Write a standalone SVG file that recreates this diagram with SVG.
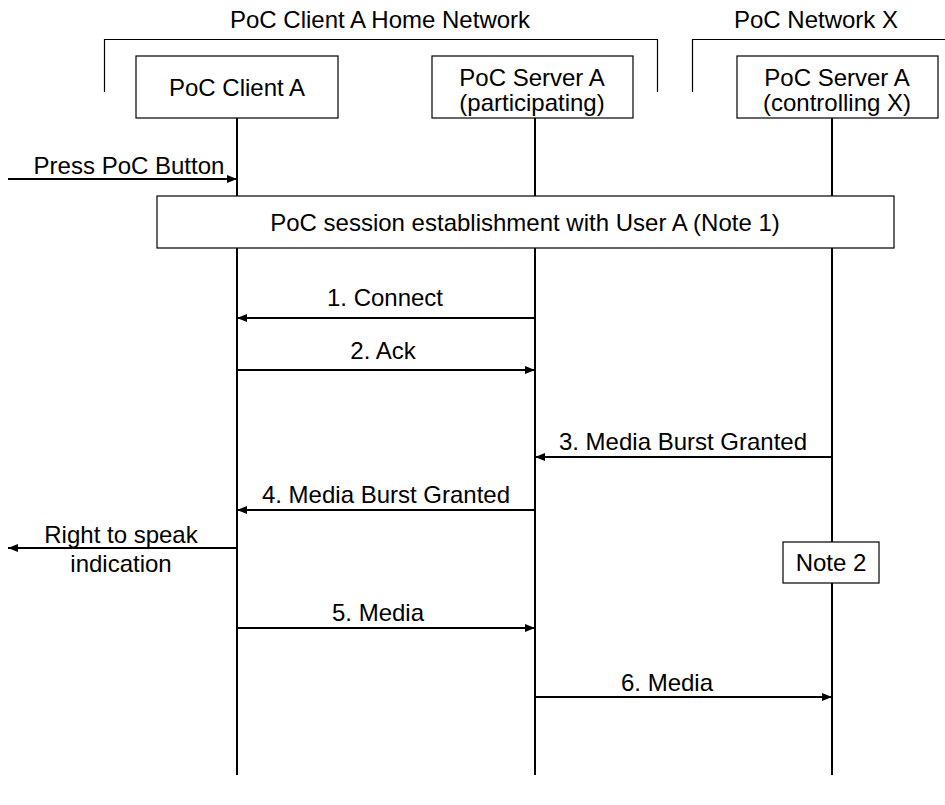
<svg xmlns="http://www.w3.org/2000/svg" width="945" height="805" viewBox="0 0 945 805">
<defs>
<style>
text{font-family:"Liberation Sans",Arial,sans-serif;font-size:24px;fill:#000;text-anchor:middle}
.box{fill:#fff;stroke:#000;stroke-width:1.2}
.br{fill:none;stroke:#000;stroke-width:1.2}
.life{stroke:#000;stroke-width:2}
.msg{stroke:#000;stroke-width:2;fill:none;marker-end:url(#ah)}
</style>
<marker id="ah" viewBox="0 0 10 8" refX="10" refY="4" markerWidth="10" markerHeight="8" markerUnits="userSpaceOnUse" orient="auto">
<path d="M0,0 L10,4 L0,8 Z" fill="#000"/>
</marker>
</defs>
<rect width="945" height="805" fill="#fff"/>
<g id="home-network">
<path class="br" d="M104.5,92 V39.5 H657.5 V92"/>
<text x="380" y="28">PoC Client A Home Network</text>
</g>
<g id="network-x">
<path class="br" d="M692.5,92 V39.5 H945"/>
<text x="816" y="28">PoC Network X</text>
</g>
<g id="lifelines">
<line class="life" x1="237" y1="118" x2="237" y2="775"/>
<line class="life" x1="535" y1="118" x2="535" y2="775"/>
<line class="life" x1="832" y1="118" x2="832" y2="775"/>
</g>
<g id="client-a">
<rect class="box" x="136" y="56" width="202" height="62"/>
<text x="237" y="96">PoC Client A</text>
</g>
<g id="server-participating">
<rect class="box" x="432" y="56" width="201" height="62"/>
<text x="532" y="86">PoC Server A</text>
<text x="532" y="111">(participating)</text>
</g>
<g id="server-controlling">
<rect class="box" x="737" y="56" width="201" height="62"/>
<text x="837" y="86">PoC Server A</text>
<text x="837" y="111">(controlling X)</text>
</g>
<g id="session">
<rect class="box" x="157" y="196" width="737" height="52"/>
<text x="525" y="231">PoC session establishment with User A (Note 1)</text>
</g>
<g id="note2">
<rect class="box" x="783" y="542" width="96" height="41"/>
<text x="831" y="571">Note 2</text>
</g>
<g id="connectors">
<line class="msg" x1="8" y1="179" x2="237" y2="179"/>
<line class="msg" x1="535" y1="318" x2="237" y2="318"/>
<line class="msg" x1="237" y1="370" x2="535" y2="370"/>
<line class="msg" x1="832" y1="457" x2="535" y2="457"/>
<line class="msg" x1="535" y1="510" x2="237" y2="510"/>
<line class="msg" x1="237" y1="548" x2="8" y2="548"/>
<line class="msg" x1="237" y1="628" x2="535" y2="628"/>
<line class="msg" x1="535" y1="697" x2="832" y2="697"/>
</g>
<g id="labels">
<text x="129" y="174">Press PoC Button</text>
<text x="385" y="306">1. Connect</text>
<text x="383" y="359">2. Ack</text>
<text x="683" y="450">3. Media Burst Granted</text>
<text x="386" y="503">4. Media Burst Granted</text>
<text x="121" y="543">Right to speak</text>
<text x="121" y="572">indication</text>
<text x="378" y="621">5. Media</text>
<text x="667" y="691">6. Media</text>
</g>
</svg>
